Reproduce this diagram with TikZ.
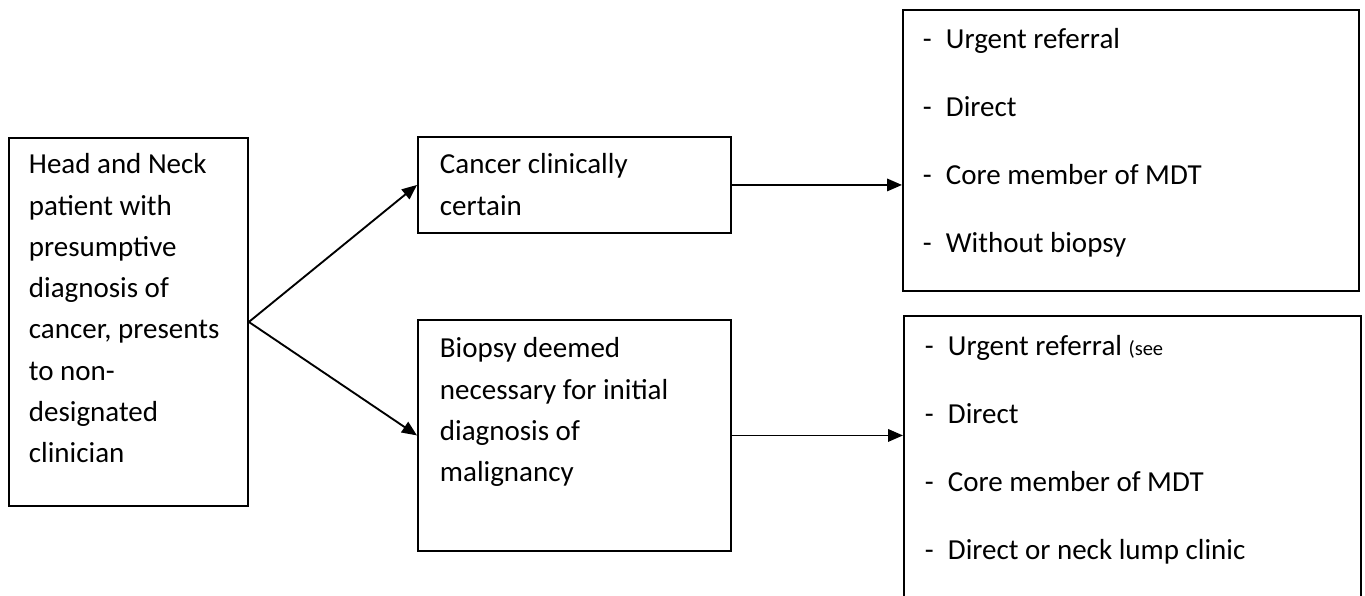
\documentclass[tikz,border=0pt]{standalone}
\usepackage{fontspec}
\setmainfont{Carlito}
\usetikzlibrary{arrows.meta, positioning, calc}
\tikzstyle{process} = [rectangle, draw=black, line width=0.75pt, inner xsep=0pt, inner ysep=0pt, align=flush left, anchor=north west, font=\fontsize{11.6}{16.5}\selectfont]
\tikzstyle{listbox} = [process, font=\fontsize{11.6}{27.2}\selectfont]
\tikzstyle{arrow} = [line width=0.75pt,-{Triangle[length=6pt,width=5pt]}]
\newcommand{\listdash}{\makebox[9.2pt][l]{-}}

\begin{document}
\begin{tikzpicture}[x=0.4pt, y=-0.4pt]
                \fill [white] (0,0) rectangle (1365,595);
                \useasboundingbox (0,0) rectangle (1365,595);

                \node (patient) [process, text width=79.6pt, minimum width=95.6pt,
                text height=14.4pt, text depth=132.8pt] at (8,137) {Head and Neck\\
                patient with\\ presumptive\\ diagnosis of\\ cancer,~presents\\
                to non-\\ designated\\ clinician};
                \node (certain) [process, text width=107.6pt, minimum width=125.2pt,
                text height=14.8pt, text depth=23.6pt] at (417,136) {Cancer clinically\\
                certain};
                \node (biopsy) [process, text width=107.6pt, minimum width=125.2pt,
                text height=15.2pt, text depth=77.2pt] at (417,319) {Biopsy deemed\\
                necessary for initial\\ diagnosis of\\ malignancy};
                \node (referone) [listbox, text width=166.4pt, minimum width=182.4pt,
                text height=15.6pt, text depth=96.8pt] at (902,9) {\listdash Urgent referral\\
                \listdash Direct\\ \listdash Core member of MDT\\ \listdash Without biopsy};
                \node (refertwo) [listbox, text width=166pt, minimum width=182.8pt,
                text height=16pt, text depth=114pt] at (903,315) {\listdash Urgent referral
                {\fontsize{8.2}{10}\selectfont (see}\\ \listdash Direct\\
                \listdash Core member of MDT\\ \listdash Direct or neck lump clinic};

                \draw [arrow] (patient.east) -- (certain.west);
                \draw [arrow] (patient.east) -- (biopsy.west);
                \draw [arrow] (certain.east) -- (certain.east -| referone.west);
                \draw [arrow] (biopsy.east) -- (biopsy.east -| refertwo.west);

\end{tikzpicture}
\end{document}
